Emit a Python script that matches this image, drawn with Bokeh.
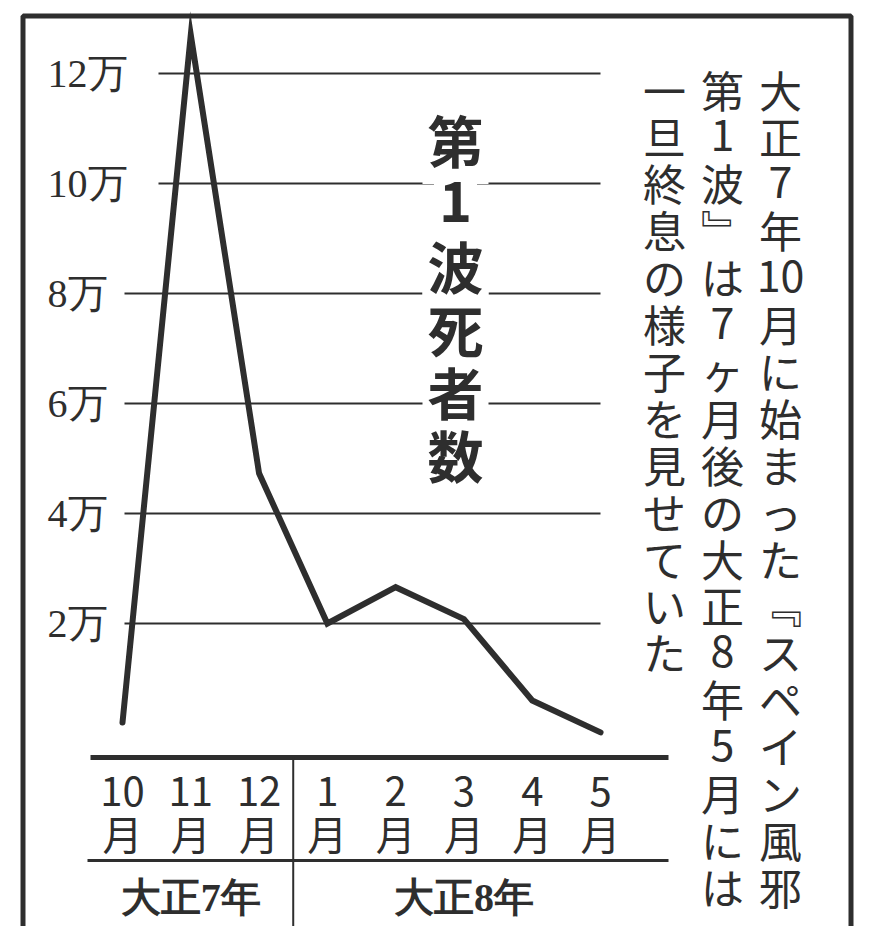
from bokeh.plotting import figure
from bokeh.models import Range1d
from bokeh.core.properties import value
from bokeh.embed import file_html
from bokeh.resources import INLINE

# ---------------- data ----------------
month_numbers = ["10", "11", "12", "1", "2", "3", "4", "5"]
month_unit = "月"
deaths_man = [0.2, 12.7, 4.73, 2.0, 2.66, 2.08, 0.6, 0.02]   # 単位: 万人
tick_values = [2, 4, 6, 8, 10, 12]
tick_labels = ["2万", "4万", "6万", "8万", "10万", "12万"]
year_labels = ["大正7年", "大正8年"]
year_month_counts = [3, 5]
title_text = "第1波死者数"
note_columns = [
    "大正7年10月に始まった『スペイン風邪",
    "第1波』は7ヶ月後の大正8年5月には",
    "一旦終息の様子を見せていた",
]

# ---------------- layout (reference pixel frame) ----------------
W, H = 870, 926
PAGE = 0
X0, DX = 122.0, 68.29     # pixel of month index 0, pixels per month
Y0, DY = 733.0, 55.0      # pixel of value 0, pixels per 1万

def dx(px):
    return (px - X0) / DX

def dy(py):
    return (Y0 - py) / DY

INK = "#2e2e2e"
JP = value("Noto Sans CJK JP")
SERIF = value("Liberation Serif")

def cells_of(s):
    cells, buf = [], ""
    for ch in s:
        if ch.isdigit():
            buf += ch
            continue
        if buf:
            cells.append(buf)
            buf = ""
        cells.append({"『": "\ufe43", "』": "\ufe44"}.get(ch, ch))
    if buf:
        cells.append(buf)
    return cells

def vertical_layout(columns, col_px, first_center_px, pitch_px):
    xs, ys, ts = [], [], []
    for c, cx in zip(columns, col_px):
        for k, cell in enumerate(cells_of(c)):
            xs.append(dx(cx))
            ys.append(dy(first_center_px + k * pitch_px))
            ts.append(cell)
    return xs, ys, ts

p = figure(width=W, height=H,
           x_range=Range1d(dx(PAGE), dx(PAGE + W)),
           y_range=Range1d(dy(PAGE + H), dy(PAGE)),
           output_backend="svg", toolbar_location=None,
           x_axis_location=None, y_axis_location=None,
           min_border=0)
p.grid.visible = False
p.outline_line_color = None
p.background_fill_color = "white"
p.border_fill_color = "white"

# outer frame (bottom edge runs off the picture)
p.quad(left=dx(22.5), right=dx(850.5), top=dy(15.5), bottom=dy(1100),
       fill_color=None, line_color=INK, line_width=5)

# gridlines and value labels
grid_start = [dx(158) if len(t) > 2 else dx(124) for t in tick_labels]
p.segment(x0=grid_start, y0=tick_values, x1=[dx(600)] * len(tick_values), y1=tick_values,
          line_color=INK, line_width=2)
p.text(x=[dx(47)] * len(tick_values), y=tick_values, text=tick_labels,
       text_font=SERIF, text_font_size="40px", text_color=INK,
       text_align="left", text_baseline="middle")

# title (vertical): white backing first, then the characters on top
tx, ty, tt = vertical_layout([title_text], [455], 138, 63.0)
p.text(x=tx, y=ty, text=tt,
       text_font=JP, text_font_style="bold", text_font_size="56px",
       text_alpha=0.0, text_align="center", text_baseline="middle",
       background_fill_color="white", padding=5)
p.text(x=tx, y=ty, text=tt,
       text_font=JP, text_font_style="bold", text_font_size="56px",
       text_color=INK, text_align="center", text_baseline="middle")

# data line
idx = list(range(len(month_numbers)))
p.line(x=idx, y=deaths_man, line_color=INK, line_width=6, line_join="miter", line_cap="round")

# axis rules
p.segment(x0=[dx(90)], y0=[dy(757)], x1=[dx(668)], y1=[dy(757)], line_color=INK, line_width=5)
p.segment(x0=[dx(87)], y0=[dy(860)], x1=[dx(668)], y1=[dy(860)], line_color=INK, line_width=3)
split = year_month_counts[0] - 0.5
p.segment(x0=[split], y0=[dy(757)], x1=[split], y1=[dy(1100)], line_color=INK, line_width=2)

# month labels
p.text(x=idx, y=[dy(791)] * len(idx), text=month_numbers,
       text_font=JP, text_font_size="40px", text_color=INK,
       text_align="center", text_baseline="middle")
p.text(x=idx, y=[dy(832)] * len(idx), text=[month_unit] * len(idx),
       text_font=JP, text_font_size="40px", text_color=INK,
       text_align="center", text_baseline="middle")

# year labels centred on their months
centers, start = [], 0
for n in year_month_counts:
    centers.append(start + (n - 1) / 2)
    start += n
p.text(x=centers, y=[dy(897)] * len(centers), text=year_labels,
       text_font=SERIF, text_font_style="bold", text_font_size="40px", text_color=INK,
       text_align="center", text_baseline="middle")

# vertical note (right to left columns)
nx, ny, nt = vertical_layout(note_columns, [780, 722, 664], 88, 46.9)
p.text(x=nx, y=ny, text=nt,
       text_font=JP, text_font_size="43px", text_color=INK,
       text_align="center", text_baseline="middle")

open("out.html", "w").write(file_html(p, INLINE))
